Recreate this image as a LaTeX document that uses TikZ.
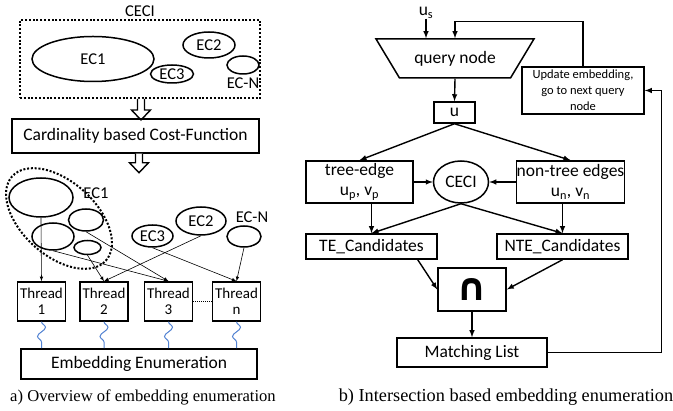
\documentclass[tikz,border=0pt]{standalone}
\usepackage{fontspec}
\setmainfont{Carlito}
\newfontfamily\serifcap{Liberation Serif}
\newfontfamily\simbolos{DejaVu Sans}
\usetikzlibrary{shapes.geometric, decorations.pathmorphing}
\definecolor{azulOnda}{RGB}{82,130,210}

\begin{document}
\begin{tikzpicture}[x=1pt, y=-1pt, >=latex,
    every node/.style={font=\fontsize{17.5}{20}\selectfont, inner sep=0pt},
    caja/.style={draw, line width=1.5pt, align=center},
    ecTexto/.style={font=\fontsize{16.5}{18}\selectfont},
    ec/.style={draw, ellipse, line width=1.5pt, ecTexto},
    hilo/.style={draw, line width=1.5pt, minimum width=48, minimum height=39, align=center, font=\fontsize{15}{16}\selectfont},
    punteado/.style={line width=2pt, dash pattern=on 2pt off 1.8pt},
    fina/.style={->, line width=0.6pt},
    flujo/.style={->, line width=1.4pt},
    onda/.style={azulOnda, line width=1pt, decorate, decoration={snake, segment length=18, amplitude=4}},
    leyenda/.style={font=\serifcap\fontsize{16.6}{18}\selectfont}
]
\useasboundingbox (0,0) rectangle (673,411);

% a) CECI
\node[draw, punteado, minimum width=240, minimum height=78, label={[ecTexto, label distance=2pt]above:CECI}] (ceciBox) at (140,59) {};
\node[ec, minimum width=122, minimum height=45] (ec1Top) at (93,59) {EC1};
\node[ec, minimum width=52, minimum height=26] (ec2Top) at (209,45) {EC2};
\node[ec, minimum width=43, minimum height=18] (ec3Top) at (172,74) {EC3};
\node[ec, minimum width=32, minimum height=18, label={[ecTexto, label distance=2.5pt]below:EC-N}] (ecNTop) at (243,65) {};
\draw[line width=1.4pt, fill=white] ([xshift=1]ceciBox.south) ++(-3.5,0) -- ++(0,11) -- ++(-6,0) -- ++(9.5,10) -- ++(9.5,-10) -- ++(-6,0) -- ++(0,-11);

% Funcion de coste
\node[caja, minimum width=247, minimum height=34] (costFunc) at (135.5,136) {Cardinality based Cost-Function};
\draw[line width=1.4pt, fill=white] ([xshift=3.5]costFunc.south) ++(-3.5,0) -- ++(0,9) -- ++(-6,0) -- ++(9.5,10) -- ++(9.5,-10) -- ++(-6,0) -- ++(0,-9);

% Clases de equivalencia
\node[draw, ellipse, punteado, minimum width=126, minimum height=74, rotate=-42] (grupoEc1) at (59,218.5) {};
\node[ecTexto] (ec1Lab) at (96,193) {EC1};
\node[ec, minimum width=64, minimum height=39] (e1) at (41,197.5) {};
\node[ec, minimum width=35, minimum height=22] (e2) at (86,220) {};
\node[ec, minimum width=42, minimum height=27] (e3) at (53,236.5) {};
\node[ec, minimum width=27, minimum height=14] (e4) at (87.5,247.5) {};
\node[ec, minimum width=41, minimum height=22] (ec3Low) at (152.5,236) {EC3};
\node[ec, minimum width=50, minimum height=28] (ec2Low) at (201,221) {EC2};
\node[ec, minimum width=34, minimum height=21, label={[ecTexto, label distance=2pt, xshift=8pt]above:EC-N}] (ecNLow) at (244,236.5) {};

% Hilos
\node[hilo] (hilo1) at (41.5,301.5) {Thread\\1};
\node[hilo] (hilo2) at (104,301.5) {Thread\\2};
\node[hilo] (hilo3) at (168.5,301.5) {Thread\\3};
\node[hilo] (hiloN) at (236.5,301.5) {Thread\\n};
\draw[line width=1pt, dash pattern=on 1pt off 1pt] (hilo3) -- (hiloN);
\node[caja, minimum width=236, minimum height=30] (enumBox) at (139,364) {Embedding Enumeration};

% Aristas
\foreach \a/\b in {e1/hilo1, e2/hilo3, e3/hilo3, e4/hilo2, ec3Low/hiloN, ec2Low/hilo2, ecNLow/hiloN}
  \draw[fina] (\a.south) -- (\b.north);
\foreach \h in {hilo1, hilo2, hilo3, hiloN}
  \draw[onda] (\h.south) -- (\h.south |- enumBox.north);

% b) Interseccion
\node (usLab) at (426,13) {u\textsubscript{s}};
\node[draw, trapezium, trapezium angle=41, shape border rotate=180, trapezium stretches=true, minimum width=158, minimum height=39, line width=1.5pt] (query) at (455,58.5) {query node};
\node[caja, minimum width=41, minimum height=21] (uBox) at (454.5,112.5) {u};
\node[caja, minimum width=122, minimum height=47, font=\fontsize{12.5}{16}\selectfont] (updBox) at (583,90.5) {Update embedding,\\go to next query\\node};
\node[caja, minimum width=107, minimum height=42] (treeBox) at (359.5,182) {tree-edge\\u\textsubscript{p}, v\textsubscript{p}};
\node[draw, ellipse, line width=1.5pt, minimum width=55, minimum height=42] (ceciNode) at (461,182) {CECI};
\node[caja, minimum width=107, minimum height=42] (nonTreeBox) at (570.5,182) {non-tree edges\\u\textsubscript{n}, v\textsubscript{n}};
\node[caja, minimum width=131, minimum height=25] (teBox) at (371.5,246.5) {TE\_Candidates};
\node[caja, minimum width=131, minimum height=25] (nteBox) at (562.5,246.5) {NTE\_Candidates};
\node[caja, minimum width=68, minimum height=43, font=\simbolos\bfseries\fontsize{38}{38}\selectfont] (capBox) at (472,289.5) {∩};
\node[caja, minimum width=150, minimum height=29] (matchBox) at (472,352.5) {Matching List};

% Flujo
\draw[flujo] (usLab.south) -- (usLab.south |- query.north);
\draw[flujo] (updBox.north) -- ++(0,-45) -| (query.north);
\draw[flujo] (query.south) -- (uBox.north);
\draw[flujo] (uBox.south) -- (treeBox.north);
\draw[flujo] (uBox.south) -- (nonTreeBox.north);
\draw[flujo] (treeBox.east) -- (ceciNode.west);
\draw[flujo] (nonTreeBox.west) -- (ceciNode.east);
\draw[flujo] (teBox.north |- treeBox.south) -- (teBox.north);
\draw[flujo] (nteBox.north |- nonTreeBox.south) -- (nteBox.north);
\draw[flujo] (ceciNode.south) -- (teBox.north);
\draw[flujo] (ceciNode.south) -- (nteBox.north);
\draw[flujo] ([xshift=-20]teBox.south east) -- (capBox.west);
\draw[flujo] (nteBox.south) -- (capBox.east);
\draw[flujo] (capBox.south) -- (matchBox.north);
\draw[flujo] (matchBox.east) -- ++(114,0) |- (updBox.east);

% Leyendas
\node[leyenda] (capA) at (143,397) {a) Overview of embedding enumeration};
\node[leyenda, font=\serifcap\fontsize{18.3}{20}\selectfont] (capB) at (506,397) {b) Intersection based embedding enumeration};
\end{tikzpicture}
\end{document}
